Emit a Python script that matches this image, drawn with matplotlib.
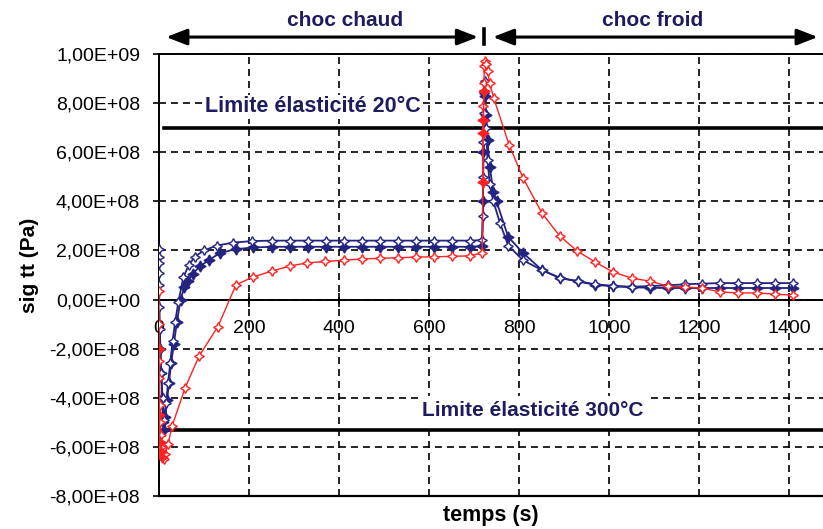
import matplotlib.pyplot as plt

plt.rcParams['font.family'] = ['Liberation Sans', 'DejaVu Sans']

# ---- data (temps en s, contrainte en 1e8 Pa) ----
t_bleu_ouvert = [0, 0, 0, 0, 0, 1, 2, 3, 5, 8, 12, 16, 20, 25, 30, 36, 43, 54, 66, 80, 100,
                 129, 165, 206, 250, 290, 330, 370, 410, 450, 490, 530, 570, 610, 650, 690, 718,
                 720, 720, 721, 722, 723, 725, 727, 730, 735, 743, 758, 776, 809, 851, 891, 931,
                 969, 1009, 1051, 1091, 1131, 1169, 1207, 1247, 1287, 1329, 1369, 1409]
sig_bleu_ouvert = [2.05, 1.75, 1.5, 1.1, 0.6, -0.3, -1.2, -2.0, -3.0, -4.0, -4.9, -4.2, -3.4, -2.6,
                   -1.7, -0.9, -0.1, 0.9, 1.4, 1.75, 2.0, 2.2, 2.32, 2.38, 2.4, 2.4, 2.4, 2.4, 2.4,
                   2.4, 2.4, 2.4, 2.4, 2.4, 2.4, 2.4, 2.42, 3.4, 5.0, 6.4, 7.6, 8.4, 8.9, 7.0, 5.7,
                   4.7, 4.0, 3.1, 2.2, 1.6, 1.2, 0.88, 0.75, 0.62, 0.56, 0.52, 0.55, 0.58, 0.62,
                   0.65, 0.67, 0.67, 0.67, 0.67, 0.67]

t_bleu_plein = [3, 5, 7, 9, 11, 14, 18, 22, 27, 33, 40, 48, 56, 64, 75, 91, 110, 136, 170, 209,
                250, 290, 330, 370, 410, 450, 490, 530, 570, 610, 650, 690, 718, 720, 721, 722,
                724, 727, 730, 735, 743, 750, 776, 809, 851, 891, 931, 969, 1009, 1051, 1091,
                1131, 1169, 1207, 1247, 1287, 1329, 1369, 1409]
sig_bleu_plein = [-2.0, -3.0, -4.0, -5.0, -5.3, -4.8, -4.1, -3.4, -2.6, -1.8, -0.9, 0.0, 0.5, 0.75,
                  1.05, 1.35, 1.6, 1.9, 2.05, 2.12, 2.15, 2.15, 2.15, 2.15, 2.15, 2.15, 2.15, 2.15,
                  2.15, 2.15, 2.15, 2.15, 2.18, 4.0, 6.0, 7.3, 8.3, 7.5, 6.5, 5.4, 4.4, 4.0, 2.55,
                  1.9, 1.2, 0.88, 0.74, 0.6, 0.54, 0.5, 0.48, 0.47, 0.47, 0.47, 0.47, 0.47, 0.47,
                  0.47, 0.47]

t_rouge_ouvert = [0, 0, 1, 1, 2, 3, 4, 5, 7, 10, 14, 20, 29, 58, 89, 131, 171, 209, 251, 291, 329,
                  369, 410, 450, 490, 530, 570, 610, 650, 690, 718, 720, 720, 721, 722, 723, 725,
                  727, 730, 735, 744, 778, 809, 851, 890, 929, 969, 1009, 1051, 1091, 1131, 1169,
                  1207, 1247, 1287, 1329, 1369, 1409]
sig_rouge_ouvert = [0.35, -1.0, -2.5, -3.2, -4.3, -5.0, -5.5, -6.0, -6.3, -6.5, -6.3, -5.9, -5.15,
                    -3.6, -2.3, -1.1, 0.6, 0.92, 1.16, 1.37, 1.49, 1.55, 1.6, 1.65, 1.68, 1.7,
                    1.73, 1.74, 1.76, 1.78, 1.9, 4.8, 6.8, 7.9, 8.8, 9.5, 9.7, 9.6, 9.3, 8.8, 8.2,
                    6.3, 4.95, 3.52, 2.6, 1.98, 1.53, 1.12, 0.87, 0.75, 0.55, 0.51, 0.47, 0.31,
                    0.27, 0.27, 0.22, 0.18]

t_rouge_plein_a = [0, 1, 2, 4, 6]
sig_rouge_plein_a = [-2.0, -4.7, -5.8, -6.2, -6.4]
t_rouge_plein_b = [720, 720, 721, 722]
sig_rouge_plein_b = [4.8, 6.8, 7.3, 8.5]

limite_20 = 7.0e8
limite_300 = -5.32e8

bleu = '#232382'
rouge = '#ff2020'
texte = '#1c1c5e'
etoile = (4, 1, 0)


def pa(vals):
    return [v * 1e8 for v in vals]


fig = plt.figure(figsize=(8.23, 5.29), dpi=100)
ax = fig.add_axes([159 / 823, 1 - 496 / 529, 664 / 823, 442 / 529])

ax.set_xlim(0, 664 / 0.45)
ax.set_ylim(-8e8, 1e9)
ax.set_xticks(range(0, 1401, 200))
ax.set_yticks([i * 2e8 for i in range(-4, 6)])
ax.set_yticklabels([f"{v:.2E}".replace('.', ',') for v in ax.get_yticks()])

ax.grid(True, color='black', linestyle=(0, (4.2, 3)), linewidth=1.2, zorder=0)
ax.set_axisbelow(True)

ax.spines['right'].set_visible(False)
ax.spines['bottom'].set_position(('data', 0))
for s in ['left', 'bottom', 'top']:
    ax.spines[s].set_linewidth(1.4)
ax.axhline(-8e8, color='black', lw=1.6, clip_on=False, zorder=3)

ax.tick_params(axis='y', direction='out', length=4.5, width=1.2, pad=9, labelsize=14)
ax.tick_params(axis='x', direction='inout', length=10, width=1.2, pad=10, labelsize=14)

# limites d'elasticite
ax.plot([11, 1476], [limite_20, limite_20], color='black', lw=2.6, zorder=2)
ax.plot([13, 1476], [limite_300, limite_300], color='black', lw=2.6, zorder=2)
ax.text(102, 7.85e8, "Limite élasticité 20°C", color=texte, fontsize=15.5, fontweight='bold',
        va='center', ha='left', zorder=2,
        bbox=dict(facecolor='white', edgecolor='none', pad=1))
ax.text(830, -4.5e8, "Limite élasticité 300°C", color=texte, fontsize=15, fontweight='bold',
        va='center', ha='center', zorder=2,
        bbox=dict(facecolor='white', edgecolor='none', pad=3))

# courbes (pleines d'abord, ouvertes par-dessus)
ax.plot(t_bleu_plein, pa(sig_bleu_plein), color=bleu, lw=1.3, marker=etoile, ms=8,
        mfc=bleu, mec=bleu, zorder=4)
ax.plot(t_bleu_ouvert, pa(sig_bleu_ouvert), color=bleu, lw=1.3, marker=etoile, ms=7,
        mfc='white', mec=bleu, mew=1, zorder=4)
ax.plot(t_rouge_ouvert, pa(sig_rouge_ouvert), color=rouge, lw=1.0, marker=etoile, ms=7,
        mfc='white', mec=rouge, mew=1, zorder=5)
ax.plot(t_rouge_plein_a, pa(sig_rouge_plein_a), color=rouge, lw=1.0, marker=etoile, ms=8,
        mfc=rouge, mec=rouge, zorder=5)
ax.plot(t_rouge_plein_b, pa(sig_rouge_plein_b), color=rouge, lw=1.0, marker=etoile, ms=8,
        mfc=rouge, mec=rouge, zorder=5)

# fleches choc chaud / choc froid
y_fleche = 1.069e9
fleche = dict(arrowstyle='<|-|>,head_length=0.9,head_width=0.35', color='black', lw=2.2,
              shrinkA=0, shrinkB=0, mutation_scale=14)
ax.annotate('', xy=(709, y_fleche), xytext=(16, y_fleche), arrowprops=fleche,
            annotation_clip=False)
ax.annotate('', xy=(1464, y_fleche), xytext=(742, y_fleche), arrowprops=fleche,
            annotation_clip=False)
ax.plot([722, 722], [1.04e9, 1.1e9], color='black', lw=2.6, clip_on=False)
ax.text(413, 1.138e9, "choc chaud", color=texte, fontsize=15, fontweight='bold',
        ha='center', va='center')
ax.text(1098, 1.138e9, "choc froid", color=texte, fontsize=15, fontweight='bold',
        ha='center', va='center')

fig.text(30 / 823, 1 - 265 / 529, "sig tt (Pa)", rotation=90, fontsize=15, fontweight='bold',
         ha='center', va='center')
fig.text(491 / 823, 1 - 515 / 529, "temps (s)", fontsize=15.5, fontweight='bold',
         ha='center', va='center')

plt.savefig("out.png", dpi=100)
